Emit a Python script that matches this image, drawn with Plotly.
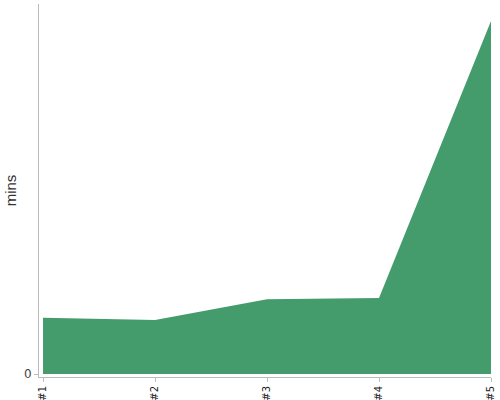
import plotly.graph_objects as go

# Data
categories = ['#1', '#2', '#3', '#4', '#5']
minutes = [15.9, 15.3, 21.2, 21.5, 100.0]
y_ticks = [0]

fig = go.Figure(data=go.Scatter(
    x=list(range(len(categories))), y=minutes,
    mode='lines', fill='tozeroy',
    fillcolor='#449c6c', line=dict(width=0, color='#449c6c'),
    hoverinfo='x+y',
))

fig.update_layout(
    width=500, height=400,
    margin=dict(l=39, r=9, t=4, b=23),
    plot_bgcolor='white', paper_bgcolor='white',
    showlegend=False,
    font=dict(family='DejaVu Sans', color='#333'),
    xaxis=dict(
        range=[-0.036, 4], tickmode='array',
        tickvals=list(range(len(categories))), ticktext=categories,
        tickangle=-90, tickfont=dict(size=10, color='#222'),
        showline=True, linecolor='#bbb', linewidth=1,
        ticks='outside', ticklen=4, tickcolor='#bbb',
        showgrid=False, zeroline=False, automargin=False,
    ),
    yaxis=dict(
        range=[-0.85, 104.8], tickvals=y_ticks,
        tickfont=dict(size=12, color='#444'),
        showline=True, linecolor='#bbb', linewidth=1,
        ticks='outside', ticklen=4, tickcolor='#bbb',
        showgrid=False, zeroline=False, automargin=False,
        title=dict(text='mins', font=dict(family='Liberation Sans', size=15, color='#333'),
                   standoff=3),
    ),
)

# drop the default page margin so the chart sits at the window's corner
fig.write_html("out.html", config={'displayModeBar': False},
               post_script="document.body.style.margin='0';")
